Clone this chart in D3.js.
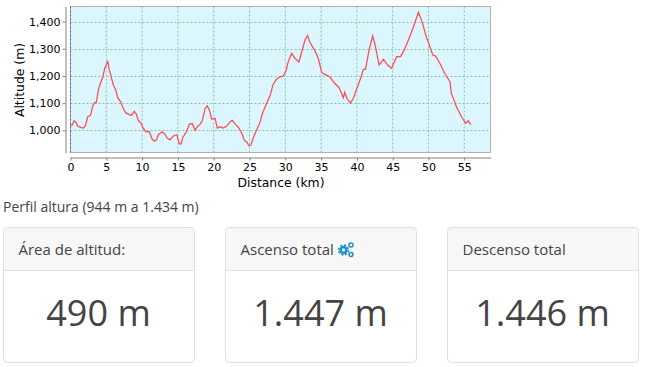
<!DOCTYPE html>
<html>
<head>
<meta charset="utf-8">
<script src="https://cdn.jsdelivr.net/npm/d3@7"></script>
<style>
  html, body { margin: 0; padding: 0; background: #fff; overflow: hidden; }
  svg { display: block; }
  .axis text { font-family: "DejaVu Sans", sans-serif; font-size: 11px; fill: #000; }
  .axis-title { font-family: "DejaVu Sans", sans-serif; font-size: 12.4px; fill: #000; }
  .page-text { font-family: "Open Sans", sans-serif; fill: #444; }
</style>
</head>
<body>
<div id="chart"></div>
<script>
// values
const distance = [0, 0.2, 0.5, 0.8, 1, 1.5, 1.8, 2.1, 2.4, 2.8, 3.1, 3.4, 3.6, 3.9, 4.2, 4.5, 4.8, 5, 5.2, 5.4, 5.7, 6, 6.3, 6.6, 7, 7.3, 7.7, 8.2, 8.5, 8.9, 9.2, 9.5, 9.9, 10.1, 10.5, 11, 11.4, 11.7, 12, 12.3, 12.8, 13.2, 13.5, 13.9, 14.4, 14.85, 15.2, 15.45, 15.7, 16.2, 16.6, 17, 17.4, 17.7, 18.1, 18.4, 18.8, 19.1, 19.4, 19.7, 20.2, 20.5, 20.9, 21.3, 21.8, 22.3, 22.6, 23, 23.5, 23.9, 24.3, 24.6, 24.9, 25.2, 25.6, 26, 26.5, 26.8, 27.4, 27.9, 28.3, 28.8, 29.3, 29.7, 30.1, 30.4, 30.9, 31.35, 31.9, 32.3, 32.75, 33.1, 33.5, 34.1, 34.6, 35.1, 35.6, 36.2, 36.9, 37.5, 38.1, 38.3, 38.6, 39.1, 39.5, 40, 40.6, 40.9, 41.2, 41.7, 42.2, 42.5, 43.1, 43.7, 44.3, 44.85, 45.55, 46.1, 46.6, 47.2, 47.9, 48.6, 49.1, 49.7, 50.6, 51, 51.6, 52.3, 53, 53.2, 53.9, 54.6, 55.2, 55.55, 55.9];
const altitude = [1020, 1018, 1035, 1028, 1016, 1010, 1008, 1018, 1050, 1055, 1090, 1103, 1102, 1150, 1175, 1195, 1230, 1240, 1256, 1225, 1195, 1165, 1150, 1120, 1105, 1085, 1065, 1058, 1055, 1070, 1060, 1035, 1025, 1010, 995, 995, 968, 960, 965, 985, 995, 985, 972, 965, 980, 984, 950, 950, 975, 995, 1023, 1025, 1000, 1013, 1023, 1035, 1080, 1090, 1075, 1042, 1044, 1008, 1013, 1008, 1015, 1032, 1037, 1023, 1010, 991, 962, 958, 944, 946, 977, 1001, 1032, 1062, 1100, 1130, 1169, 1189, 1197, 1200, 1218, 1252, 1283, 1265, 1251, 1289, 1332, 1349, 1320, 1295, 1265, 1212, 1205, 1197, 1173, 1158, 1120, 1140, 1118, 1100, 1118, 1154, 1197, 1224, 1224, 1295, 1347, 1320, 1240, 1261, 1240, 1228, 1271, 1271, 1295, 1332, 1381, 1434, 1400, 1344, 1277, 1273, 1246, 1207, 1179, 1136, 1087, 1050, 1026, 1035, 1021];
const xTicks = [0, 5, 10, 15, 20, 25, 30, 35, 40, 45, 50, 55];
const yTicks = [1000, 1100, 1200, 1300, 1400];
const cardTitles = ["Área de altitud:", "Ascenso total", "Descenso total"];
const cardValues = ["490 m", "1.447 m", "1.446 m"];

const svg = d3.select("#chart").append("svg").attr("width", 646).attr("height", 367);

const plot = { left: 70.5, right: 490.5, top: 6.5, bottom: 152.5 };
const x = d3.scaleLinear().domain([0, 58.66]).range([plot.left, plot.right]);
const y = d3.scaleLinear().domain([918.5, 1455.5]).range([plot.bottom, plot.top]);

svg.append("rect")
  .attr("x", plot.left).attr("y", plot.top)
  .attr("width", plot.right - plot.left).attr("height", plot.bottom - plot.top)
  .attr("fill", "#dcf6ff").attr("stroke", "#b0b0b0");

// grid
const grid = svg.append("g").attr("stroke", "#8cc0a0").attr("stroke-dasharray", "2,2");
grid.selectAll(".gx").data(xTicks.slice(1)).enter().append("line")
  .attr("x1", d => x(d)).attr("x2", d => x(d))
  .attr("y1", plot.top).attr("y2", plot.bottom);
grid.selectAll(".gy").data(yTicks).enter().append("line")
  .attr("x1", plot.left).attr("x2", plot.right)
  .attr("y1", d => Math.round(y(d)) + 0.5).attr("y2", d => Math.round(y(d)) + 0.5);

svg.append("line")
  .attr("x1", x(0)).attr("x2", x(0)).attr("y1", plot.top).attr("y2", plot.bottom)
  .attr("stroke", "#5060a0").attr("stroke-dasharray", "2,2");

const line = d3.line().x((d, i) => x(distance[i])).y(d => y(d));
svg.append("path")
  .attr("d", line(altitude))
  .attr("fill", "none").attr("stroke", "#ff4a50").attr("stroke-width", 1.25);

// axes
const xAxis = svg.append("g").attr("class", "axis")
  .attr("transform", `translate(0,${plot.bottom + 5})`)
  .call(d3.axisBottom(x).tickValues(xTicks).tickFormat(d3.format("d")).tickSize(3).tickSizeOuter(0));
const yAxis = svg.append("g").attr("class", "axis")
  .attr("transform", `translate(${plot.left - 5},0)`)
  .call(d3.axisLeft(y).tickValues(yTicks).tickFormat(d3.format(",")).tickSize(3).tickSizeOuter(0));
svg.selectAll(".axis path, .axis line").attr("stroke", "#808080");
xAxis.selectAll("text").attr("dy", "0.75em").attr("y", 5);
yAxis.selectAll("text").attr("x", -5);

svg.append("text").attr("class", "axis-title")
  .attr("x", 281).attr("y", 187).attr("text-anchor", "middle")
  .text("Distance (km)");
svg.append("text").attr("class", "axis-title")
  .attr("transform", "translate(24,80) rotate(-90)").attr("text-anchor", "middle")
  .text("Altitude (m)");

svg.append("text").attr("class", "page-text")
  .attr("x", 3).attr("y", 212).attr("font-size", 14)
  .text("Perfil altura (944 m a 1.434 m)");

// cards
const cardX = d3.scalePoint().domain(d3.range(cardTitles.length)).range([3.5, 447.5]);
const cardW = 191, cardH = 135, cardTop = 227.5, headH = 43;

const cards = svg.selectAll(".card").data(cardTitles).enter().append("g")
  .attr("class", "card")
  .attr("transform", (d, i) => `translate(${cardX(i)},${cardTop})`);

cards.append("path")
  .attr("d", `M0,${headH}V4Q0,0 4,0H${cardW - 4}Q${cardW},0 ${cardW},4V${headH}Z`)
  .attr("fill", "#f7f7f7");
cards.append("rect")
  .attr("width", cardW).attr("height", cardH).attr("rx", 4)
  .attr("fill", "none").attr("stroke", "#dfdfdf");
cards.append("line")
  .attr("x1", 0).attr("x2", cardW).attr("y1", headH).attr("y2", headH)
  .attr("stroke", "#dfdfdf");
cards.append("text").attr("class", "page-text")
  .attr("x", 15).attr("y", 27.5).attr("font-size", 15)
  .text(d => d);
cards.append("text").attr("class", "page-text")
  .attr("x", cardW / 2 - 0.5).attr("y", 98).attr("font-size", 36).attr("text-anchor", "middle")
  .text((d, i) => cardValues[i]);

// gears next to "Ascenso total"
const gears = svg.append("g").attr("fill", "none").attr("stroke", "#1a8fd0");
gears.append("circle").attr("cx", 343.5).attr("cy", 250).attr("r", 3).attr("stroke-width", 2.6);
gears.append("circle").attr("cx", 343.5).attr("cy", 250).attr("r", 5).attr("stroke-width", 1.4).attr("stroke-dasharray", "2.2,1.7");
gears.append("circle").attr("cx", 351).attr("cy", 245).attr("r", 2).attr("stroke-width", 1.5);
gears.append("circle").attr("cx", 351).attr("cy", 254.5).attr("r", 2).attr("stroke-width", 1.5);
</script>
</body>
</html>
